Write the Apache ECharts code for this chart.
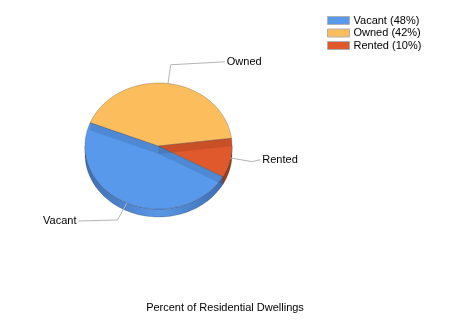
<!DOCTYPE html>
<html>
<head>
<meta charset="utf-8">
<script src="https://cdn.jsdelivr.net/npm/echarts@6/dist/echarts.min.js"></script>
<style>html,body{margin:0;padding:0;background:#fff}#c{width:450px;height:325px}</style>
</head>
<body>
<div id="c"></div>
<script>
// ---- data ----
const categories = ['Vacant', 'Owned', 'Rented'];
const values = [48, 42, 10];
const chartTitle = 'Percent of Residential Dwellings';

// ---- styles / layout ----
const topColors = ['#5899ec', '#fcbd5c', '#e0592c'];
const sideStops = [
  ['#3f6db3', '#5b97e6', '#3a68ad'],
  ['#c48a35', '#e7aa50', '#c08533'],
  ['#a8401c', '#c9522a', '#9c3a18']
];
const labelTail = [[-39, 1], [54, -3], [8, -2]];
const FONT = 'Liberation Sans, Arial, sans-serif';
const CX = 158.5, CY = 146, RX = 73.5, RY = 63, DEPTH = 8, START = 331;

const total = values.reduce((a, b) => a + b, 0);
const rad = d => d * Math.PI / 180;
const pt = (a, dy) => [CX + RX * Math.cos(rad(a)), CY - RY * Math.sin(rad(a)) + (dy || 0)];

function arcPts(a0, a1, dy) {
  const n = Math.max(2, Math.ceil(Math.abs(a1 - a0) / 2));
  const out = [];
  for (let i = 0; i <= n; i++) out.push(pt(a0 + (a1 - a0) * i / n, dy));
  return out;
}

function sliceAngles(i) {
  let cum = 0;
  for (let k = 0; k < i; k++) cum += values[k];
  const s = START - cum / total * 360;
  const e = s - values[i] / total * 360;
  return [s, e];
}

function makeRender(i) {
  return function (params, api) {
    const [s, e] = sliceAngles(i);
    const children = [];
    // front side walls (visible lower half)
    for (let k = -1; k <= 1; k++) {
      const lo = Math.max(e, 180 + 360 * k), hi = Math.min(s, 360 + 360 * k);
      if (hi > lo) {
        const top = arcPts(lo, hi, 0);
        const bot = arcPts(hi, lo, DEPTH);
        children.push({
          type: 'polygon', z2: 1,
          shape: { points: top.concat(bot) },
          style: {
            fill: new echarts.graphic.LinearGradient(CX - RX, 0, CX + RX, 0, [
              { offset: 0, color: sideStops[i][0] },
              { offset: 0.5, color: sideStops[i][1] },
              { offset: 1, color: sideStops[i][2] }
            ], true),
            stroke: 'rgba(0,0,0,0.3)', lineWidth: 0.6
          }
        });
      }
    }
    // top face
    children.push({
      type: 'polygon', z2: 2,
      shape: { points: [[CX, CY]].concat(arcPts(s, e, 0)) },
      style: { fill: topColors[i], stroke: 'rgba(60,60,60,0.45)', lineWidth: 0.6 }
    });
    // translucent radial wall at start edge
    const ed = pt(s, 0);
    children.push({
      type: 'polygon', z2: 3,
      shape: { points: [[CX, CY], ed, [ed[0], ed[1] + DEPTH], [CX, CY + DEPTH]] },
      style: { fill: 'rgba(0,0,0,0.1)' }
    });
    // label with leader line
    const m = (s + e) / 2;
    const p0 = pt(m, 0);
    const k = 0.3;
    const p1 = [p0[0] + k * RX * Math.cos(rad(m)), p0[1] - k * RY * Math.sin(rad(m))];
    const p2 = [p1[0] + labelTail[i][0], p1[1] + labelTail[i][1]];
    const right = labelTail[i][0] >= 0;
    children.push({
      type: 'polyline', z2: 5,
      shape: { points: [p0, p1, p2] },
      style: { stroke: '#b4b4b4', lineWidth: 1, fill: null }
    });
    children.push({
      type: 'text', z2: 6,
      x: p2[0] + (right ? 2 : -2), y: p2[1],
      style: {
        text: categories[i], fill: '#000', font: '11px ' + FONT,
        align: right ? 'left' : 'right', verticalAlign: 'middle'
      }
    });
    return { type: 'group', children };
  };
}

const legendNames = categories.map((c, i) => c + ' (' + Math.round(values[i] / total * 100) + '%)');

const chart = echarts.init(document.getElementById('c'), null, { renderer: 'canvas' });
chart.setOption({
  animation: false,
  backgroundColor: '#fff',
  title: {
    text: chartTitle, left: 'center', top: 302, padding: 0,
    textStyle: { fontSize: 11, fontWeight: 'normal', fontFamily: FONT, color: '#000' }
  },
  legend: {
    orient: 'vertical', left: 327, top: 15, padding: 0,
    itemWidth: 22, itemHeight: 8, itemGap: 1.5, icon: 'rect',
    itemStyle: { borderColor: '#b0b0b0', borderWidth: 1 },
    textStyle: { fontSize: 11, fontFamily: FONT, color: '#000', padding: [0, 0, 0, -1] },
    data: legendNames
  },
  series: categories.map((c, i) => ({
    type: 'custom',
    name: legendNames[i],
    coordinateSystem: 'none',
    itemStyle: { color: topColors[i] },
    renderItem: makeRender(i),
    data: [[values[i]]]
  }))
});
</script>
</body>
</html>
